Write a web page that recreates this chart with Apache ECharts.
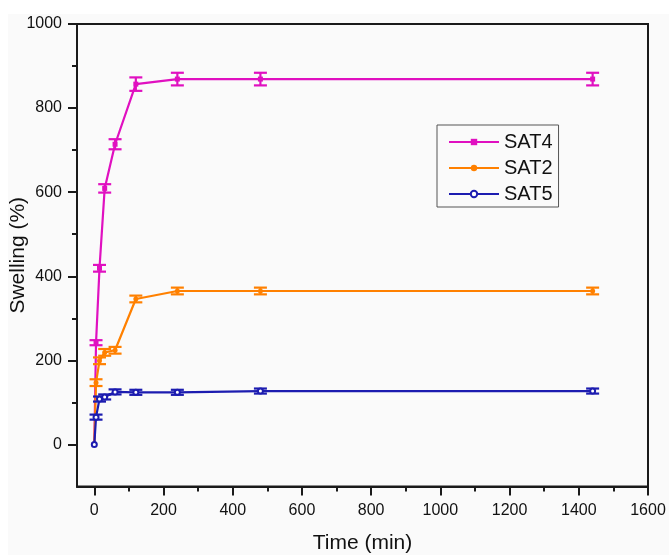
<!DOCTYPE html>
<html>
<head>
<meta charset="utf-8">
<script src="https://cdn.jsdelivr.net/npm/echarts@6/dist/echarts.min.js"></script>
<style>
    html, body { margin: 0; padding: 0; background: #ffffff; }
    #chart { width: 669px; height: 555px; }
</style>
</head>
<body>
<div id="chart"></div>
<script>
// time points (min)
const timeMin = [0, 5, 15, 30, 60, 120, 240, 480, 1440];

// swelling (%)
const sat4 = [0, 242, 419, 609, 714, 857, 869, 869, 869];
const sat2 = [0, 147, 199, 219, 224, 346, 365, 365, 365];
const sat5 = [0, 65, 108, 113, 125, 124, 124, 127, 127];

// error bar half-heights
const sat4Err = [0, 6, 8, 10, 12, 16, 15, 15, 15];
const sat2Err = [0, 8, 8, 8, 8, 8, 8, 8, 8];
const sat5Err = [0, 6, 6, 6, 6, 6, 6, 6, 6];

const xMajor = [0, 200, 400, 600, 800, 1000, 1200, 1400, 1600];
const xMinor = [100, 300, 500, 700, 900, 1100, 1300, 1500];
const yMajor = [0, 200, 400, 600, 800, 1000];
const yMinor = [100, 300, 500, 700, 900];

const colors = { sat4: "#e010c0", sat2: "#ff8000", sat5: "#1c1cb0" };

function points(values) {
    return timeMin.map((t, i) => [t, values[i]]);
}

function withErr(values, errs) {
    return timeMin.map((t, i) => [t, values[i], errs[i]]);
}

function errorBar(color) {
    return function (params, api) {
        const x = api.value(0);
        const y = api.value(1);
        const e = api.value(2);
        if (!e) return null;
        const top = api.coord([x, y + e]);
        const bot = api.coord([x, y - e]);
        const hw = 6.5;
        const style = { stroke: color, lineWidth: 2.2, fill: null };
        return {
            type: "group",
            children: [
                { type: "line", shape: { x1: top[0], y1: top[1], x2: bot[0], y2: bot[1] }, style: style },
                { type: "line", shape: { x1: top[0] - hw, y1: top[1], x2: top[0] + hw, y2: top[1] }, style: style },
                { type: "line", shape: { x1: bot[0] - hw, y1: bot[1], x2: bot[0] + hw, y2: bot[1] }, style: style },
            ],
        };
    };
}

const chart = echarts.init(document.getElementById("chart"), null, { renderer: "canvas" });

const labelFont = { fontFamily: "Liberation Sans", fontSize: 16, color: "#111", formatter: v => String(v) };
const axisColor = "#1a1a1a";

const option = {
    animation: false,
    backgroundColor: "#ffffff",
    graphic: [
        {
            type: "rect",
            left: 8, top: 14, z: -10,
            shape: { width: 661, height: 541 },
            style: { fill: "#fafafa" },
        },
    ],
    grid: {
        left: 77, top: 24, right: 21, bottom: 68.5,
        outerBoundsMode: "none", containLabel: false,
        show: true, borderColor: axisColor, borderWidth: 2, backgroundColor: "transparent",
    },
    legend: {
        data: ["SAT4", "SAT2", "SAT5"],
        orient: "vertical",
        left: 437, top: 125,
        itemWidth: 50, itemHeight: 8, itemGap: 6, itemTextGap: 5,
        padding: [7, 6, 3, 11],
        borderColor: "#555", borderWidth: 1,
        textStyle: { fontFamily: "Liberation Sans", fontSize: 20, lineHeight: 20, color: "#111" },
    },
    xAxis: [
        {
            type: "value", min: -50, max: 1600,
            name: "Time (min)", nameLocation: "middle", nameGap: 46, nameMoveOverlap: false,
            nameTextStyle: { fontFamily: "Liberation Sans", fontSize: 21, color: "#111" },
            axisLine: { show: true, onZero: false, lineStyle: { color: axisColor, width: 2 } },
            axisTick: { show: true, customValues: xMajor, length: 9, lineStyle: { color: axisColor, width: 2 } },
            axisLabel: Object.assign({ customValues: xMajor, margin: 16 }, labelFont),
            splitLine: { show: false },
        },
        {
            type: "value", min: -50, max: 1600, position: "bottom",
            axisLine: { show: false, onZero: false },
            axisTick: { show: true, customValues: xMinor, length: 5, lineStyle: { color: axisColor, width: 2 } },
            axisLabel: { show: false },
            splitLine: { show: false },
        },
    ],
    yAxis: [
        {
            type: "value", min: -100, max: 1000,
            name: "Swelling (%)", nameLocation: "middle", nameGap: 48, nameMoveOverlap: false,
            nameTextStyle: { fontFamily: "Liberation Sans", fontSize: 21, color: "#111" },
            axisLine: { show: true, onZero: false, lineStyle: { color: axisColor, width: 2 } },
            axisTick: { show: true, customValues: yMajor, length: 9, lineStyle: { color: axisColor, width: 2 } },
            axisLabel: Object.assign({ customValues: yMajor, margin: 15 }, labelFont),
            splitLine: { show: false },
        },
        {
            type: "value", min: -100, max: 1000, position: "left",
            axisLine: { show: false, onZero: false },
            axisTick: { show: true, customValues: yMinor, length: 5, lineStyle: { color: axisColor, width: 2 } },
            axisLabel: { show: false },
            splitLine: { show: false },
        },
    ],
    series: [
        {
            name: "SAT4", type: "line", data: points(sat4),
            symbol: "rect", symbolSize: 5, showAllSymbol: true,
            lineStyle: { color: colors.sat4, width: 2.2 },
            itemStyle: { color: colors.sat4 },
            z: 3,
        },
        {
            name: "SAT4 err", type: "custom", data: withErr(sat4, sat4Err),
            encode: { x: 0, y: 1 }, renderItem: errorBar(colors.sat4), z: 3,
        },
        {
            name: "SAT2", type: "line", data: points(sat2),
            symbol: "circle", symbolSize: 5, showAllSymbol: true,
            lineStyle: { color: colors.sat2, width: 2.2 },
            itemStyle: { color: colors.sat2 },
            z: 4,
        },
        {
            name: "SAT2 err", type: "custom", data: withErr(sat2, sat2Err),
            encode: { x: 0, y: 1 }, renderItem: errorBar(colors.sat2), z: 4,
        },
        {
            name: "SAT5", type: "line", data: points(sat5),
            symbol: "emptyCircle", symbolSize: 5, showAllSymbol: true,
            lineStyle: { color: colors.sat5, width: 2.2 },
            itemStyle: { color: colors.sat5, borderWidth: 1 },
            z: 5,
        },
        {
            name: "SAT5 err", type: "custom", data: withErr(sat5, sat5Err),
            encode: { x: 0, y: 1 }, renderItem: errorBar(colors.sat5), z: 5,
        },
    ],
};

chart.setOption(option);
</script>
</body>
</html>
